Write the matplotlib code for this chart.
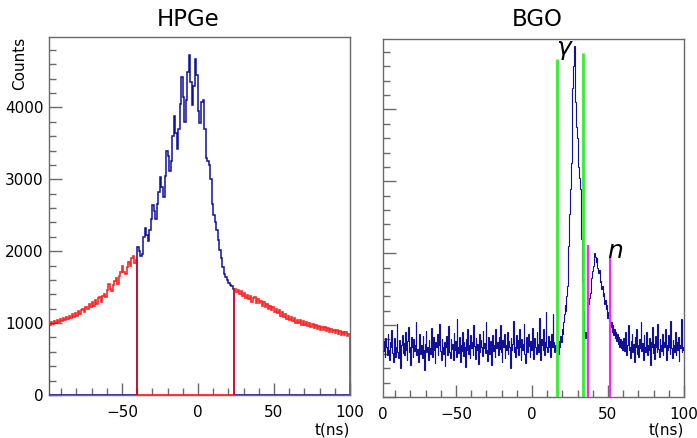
import numpy as np
import matplotlib
matplotlib.use("Agg")
import matplotlib.pyplot as plt
from matplotlib.ticker import MultipleLocator

# ---------------- data ----------------
t_min, t_max = -98.0, 100.0
hpge_cut = [-40.0, 24.0]          # central (blue) window of HPGe
bgo_split = [16.0, 60.0]

# HPGe, 1 ns bins, -98 .. -40 (red side band)
hpge_left = [980, 1020, 990, 1035, 1000, 1050, 1010, 1060, 1025, 1075,
             1040, 1085, 1055, 1100, 1070, 1125, 1085, 1140, 1105, 1165,
             1130, 1185, 1200, 1155, 1230, 1190, 1265, 1220, 1290, 1245,
             1320, 1270, 1345, 1360, 1290, 1380, 1410, 1360, 1460, 1540,
             1480, 1450, 1530, 1580, 1630, 1550, 1660, 1710, 1790, 1710,
             1680, 1780, 1850, 1800, 1910, 1940, 1840, 1880]
# HPGe, 1 ns bins, -40 .. 24 (blue central window)
hpge_mid = [2060, 2010, 1930, 1960, 2200, 2330, 2220, 2140, 2290, 2450,
            2640, 2560, 2450, 2660, 2820, 3030, 2900, 2760, 3050, 3400,
            3320, 3120, 3250, 3600, 3880, 3650, 3420, 3700, 4050, 4420,
            4150, 3800, 4100, 4500, 4730, 4350, 4030, 4300, 4680, 4450,
            3950, 3780, 4080, 4100, 3700, 3290, 3250, 3200, 3000, 2650,
            2500, 2400, 2300, 2150, 2020, 1900, 1780, 1690, 1640, 1600,
            1560, 1530, 1510, 1480]
# HPGe, 1 ns bins, 24 .. 100 (red side band)
hpge_right = [1480, 1430, 1465, 1400, 1440, 1375, 1415, 1350, 1395, 1330,
              1380, 1300, 1345, 1360, 1285, 1330, 1275, 1310, 1245, 1290,
              1230, 1270, 1200, 1245, 1185, 1220, 1150, 1195, 1140, 1180,
              1105, 1150, 1090, 1130, 1060, 1105, 1040, 1085, 1030, 1070,
              1005, 1050, 1000, 1040, 980, 1025, 975, 1010, 955, 1000,
              940, 985, 930, 970, 920, 965, 910, 950, 900, 945,
              890, 930, 880, 925, 870, 910, 860, 905, 850, 890,
              840, 880, 830, 870, 825, 855]

# BGO, 0.5 ns bins, -98 .. 16 (flat background)
bgo_base = [640, 780, 560, 820, 700, 590, 880, 650, 520, 760,
            690, 930, 610, 480, 740, 820, 560, 700, 1020, 630,
            540, 790, 680, 400, 720, 860, 610, 750, 580, 900,
            660, 510, 780, 970, 620, 700, 450, 830, 690, 560,
            810, 640, 730, 1050, 580, 670, 490, 760, 880, 600,
            720, 540, 850, 660, 380, 740, 920, 630, 700, 510,
            790, 680, 600, 960, 720, 560, 840, 650, 470, 770,
            700, 880, 590, 730, 1010, 640, 520, 810, 690, 600,
            760, 430, 690, 850, 580, 720, 990, 620, 540, 800,
            670, 740, 510, 890, 650, 780, 560, 1080, 700, 610,
            830, 480, 720, 640, 910, 570, 760, 690, 420, 800,
            650, 950, 600, 730, 540, 860, 680, 770, 590, 1000,
            710, 530, 820, 660, 740, 460, 880, 620, 790, 690,
            570, 920, 680, 750, 610, 1040, 650, 500, 840, 720,
            600, 780, 440, 700, 860, 640, 730, 560, 950, 680,
            760, 590, 830, 670, 1000, 620, 480, 790, 700, 880,
            540, 720, 650, 910, 600, 780, 690, 410, 820, 660,
            740, 1060, 620, 700, 550, 860, 680, 790, 590, 950,
            700, 520, 810, 660, 740, 1020, 600, 470, 830, 690,
            620, 880, 710, 560, 780, 650, 960, 700, 530, 820,
            690, 600, 900, 740, 630, 1100, 680, 520, 800, 720,
            650, 940, 580, 760, 1180, 700, 620, 850, 690, 780,
            560, 880, 700, 1150, 760, 620, 720, 680]
# BGO, 0.5 ns bins, 16 .. 60 (gamma + neutron peaks)
bgo_peak = [640, 720, 600, 780, 700, 850, 760, 950, 880, 1050,
            1150, 1280, 1200, 1400, 1550, 1700, 2100, 2550, 2900, 3250,
            3800, 4300, 4600, 4880, 4500, 4100, 3750, 3600, 3450, 3200,
            3050, 2900, 2500, 2200, 1600, 1200, 1000, 900, 820, 900,
            1050, 1150, 1300, 1380, 1450, 1600, 1650, 1750, 1820, 1900,
            2000, 1950, 1880, 1930, 1800, 1720, 1760, 1600, 1620, 1500,
            1550, 1400, 1450, 1300, 1350, 1220, 1280, 1100, 1180, 1050,
            1120, 980, 1050, 900, 1000, 860, 950, 820, 900, 780,
            870, 740, 830, 700, 800, 680, 780, 650]
# BGO, 0.5 ns bins, 60 .. 100 (flat background)
bgo_tail = [820, 640, 760, 900, 580, 720, 1000, 650, 700, 540,
            780, 870, 620, 740, 480, 830, 690, 950, 600, 720,
            560, 800, 680, 1040, 640, 750, 510, 860, 700, 620,
            900, 580, 730, 660, 820, 450, 760, 690, 980, 610,
            740, 530, 850, 700, 620, 1010, 670, 560, 800, 720,
            640, 880, 590, 760, 690, 940, 520, 730, 650, 860,
            700, 600, 1060, 680, 540, 790, 720, 630, 900, 580,
            760, 650, 840, 500, 720, 680, 1080, 620, 700, 660]

gamma_win = [16.5, 33.7]
gamma_top = [4708, 4790]
neutron_win = [37.0, 51.5]
neutron_top = [2111, 1944]

y_max = 4980
x_major, x_minor = 50, 10
y_major, y_minor = 1000, 200

# ---------------- figure ----------------
W, H = 697, 438
fig = plt.figure(figsize=(W / 100, H / 100), dpi=100)
plt.rcParams['font.family'] = ['DejaVu Sans']

def add_ax(x0, x1, ytop, ybot):
    return fig.add_axes([x0 / W, 1 - ybot / H, (x1 - x0) / W, (ybot - ytop) / H])

axL = add_ax(49, 350, 37, 395)
axR = add_ax(383, 684, 39, 397)

BLUE = '#10109a'
RED = '#ff0000'
GREEN = '#33ee33'
MAGENTA = '#ff22ff'
FRAME = '#6a6a6a'

def style(ax):
    ax.set_xlim(t_min, t_max)
    ax.set_ylim(0, y_max)
    ax.xaxis.set_major_locator(MultipleLocator(x_major))
    ax.xaxis.set_minor_locator(MultipleLocator(x_minor))
    ax.yaxis.set_major_locator(MultipleLocator(y_major))
    ax.yaxis.set_minor_locator(MultipleLocator(y_minor))
    ax.tick_params(which='both', direction='in', color=FRAME, top=False, right=False,
                   labelsize=11)
    ax.tick_params(which='major', length=9, width=1)
    ax.tick_params(which='minor', length=5, width=1)
    ax.tick_params(axis='x', pad=7)
    ax.tick_params(axis='y', pad=4)
    for s in ax.spines.values():
        s.set_color(FRAME)
        s.set_linewidth(1)

def seg_edges(parts, bounds):
    out = []
    for i, p in enumerate(parts):
        e = np.linspace(bounds[i], bounds[i + 1], len(p) + 1)
        out.append(e if i == len(parts) - 1 else e[:-1])
    return np.concatenate(out)

# ---- HPGe ----
counts = np.array(hpge_left + hpge_mid + hpge_right, dtype=float)
edges = seg_edges([hpge_left, hpge_mid, hpge_right],
                  [t_min, hpge_cut[0], hpge_cut[1], t_max])
centers = 0.5 * (edges[:-1] + edges[1:])
inside = (centers > hpge_cut[0]) & (centers < hpge_cut[1])
red_vals = np.where(inside, 0, counts)
blue_vals = np.where(inside, counts, 0)

style(axL)
axL.stairs(blue_vals, edges, color=BLUE, lw=1.1, baseline=0, zorder=3)
axL.stairs(red_vals, edges, color=RED, lw=1.2, baseline=0, zorder=3, alpha=0.85)
axL.set_xticks([-50, 0, 50, 100])
axL.set_xticklabels(['\u221250', '0', '50', '100'])
axL.set_yticks([0, 1000, 2000, 3000, 4000])
axL.set_yticklabels(['0', '1000', '2000', '3000', '4000'])

# ---- BGO ----
bcounts = np.array(bgo_base + bgo_peak + bgo_tail, dtype=float)
bedges = seg_edges([bgo_base, bgo_peak, bgo_tail],
                   [t_min, bgo_split[0], bgo_split[1], t_max])

style(axR)
axR.stairs(bcounts, bedges, color=BLUE, lw=0.8, baseline=None, zorder=3)
axR.vlines(gamma_win, 0, gamma_top, color=GREEN, lw=2.0, zorder=4)
axR.vlines(neutron_win, 0, neutron_top, color=MAGENTA, lw=1.5, zorder=4)
axR.set_xticks([-50, 0, 50, 100])
axR.set_xticklabels(['\u221250', '0', '50', '100'])
axR.set_yticklabels([])
axR.text(21.0, 4850, '\u03b3', fontsize=18, style='italic', ha='center', va='center', zorder=5)
axR.text(54.5, 2030, 'n', fontsize=18, style='italic', ha='center', va='center', zorder=5)
axR.text(0.0, -0.028, '0', transform=axR.transAxes, fontsize=11, ha='center', va='top')

# ---- texts ----
fig.text(188 / W, 1 - 20 / H, 'HPGe', fontsize=16.5, ha='center', va='center')
fig.text(537 / W, 1 - 20 / H, 'BGO', fontsize=16.5, ha='center', va='center')
fig.text(20 / W, 1 - 37 / H, 'Counts', fontsize=11, rotation=90, ha='center', va='top')
fig.text(350 / W, 1 - 430 / H, 't(ns)', fontsize=11, ha='right', va='center')
fig.text(684 / W, 1 - 430 / H, 't(ns)', fontsize=11, ha='right', va='center')

fig.savefig('out.png', dpi=100)
